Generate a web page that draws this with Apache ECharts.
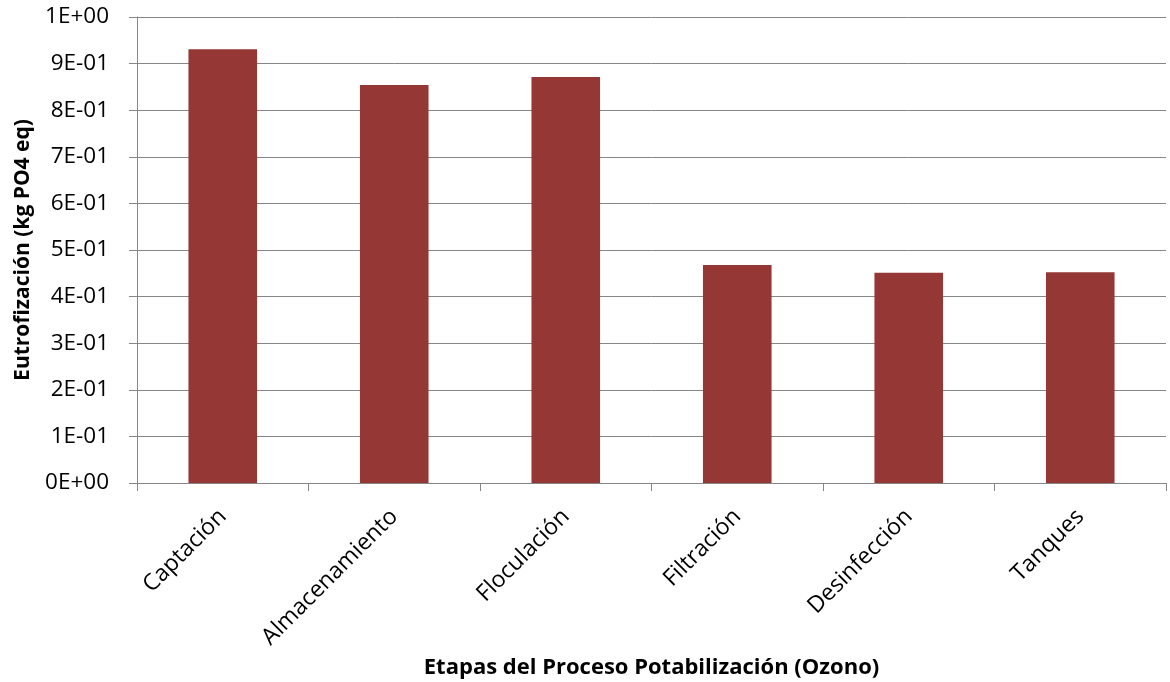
<!DOCTYPE html>
<html>
<head>
<meta charset="utf-8">
<script src="https://cdn.jsdelivr.net/npm/echarts@6/dist/echarts.min.js"></script>
<style>
  html, body { margin: 0; padding: 0; background: #fff; }
  #chart { width: 1170px; height: 682px; }
</style>
</head>
<body>
<div id="chart"></div>
<script>
// Process stages and eutrophication values (kg PO4 eq)
const categories = ['Captación', 'Almacenamiento', 'Floculación', 'Filtración', 'Desinfección', 'Tanques'];
const values = [0.931, 0.854, 0.871, 0.468, 0.451, 0.452];
const xTitle = 'Etapas del Proceso Potabilización (Ozono)';
const yTitle = 'Eutrofización (kg PO4 eq)';

// Scientific tick labels such as 9E-01, 1E+00, 0E+00
function sci(v) {
  if (Math.abs(v) < 1e-12) return '0E+00';
  const e = Math.floor(Math.log10(Math.abs(v)) + 1e-9);
  const m = Math.round(v / Math.pow(10, e));
  const sign = e < 0 ? '-' : '+';
  const ex = String(Math.abs(e)).padStart(2, '0');
  return m + 'E' + sign + ex;
}

const font = '"Open Sans", sans-serif';
const chart = echarts.init(document.getElementById('chart'));
chart.setOption({
  animation: false,
  grid: { left: 137, right: 4, top: 17, bottom: 199, containLabel: false, outerBoundsMode: 'none' },
  xAxis: {
    type: 'category',
    data: categories,
    name: xTitle,
    nameLocation: 'middle',
    nameGap: 174,
    nameTextStyle: { fontFamily: font, fontSize: 22, fontWeight: 'bold', color: '#000' },
    axisLine: { lineStyle: { color: '#868686', width: 1 } },
    axisTick: { show: true, length: 8, lineStyle: { color: '#868686' } },
    axisLabel: { rotate: 45, fontFamily: font, fontSize: 23, color: '#000', margin: 30 }
  },
  yAxis: {
    type: 'value',
    min: 0,
    max: 1,
    interval: 0.1,
    name: yTitle,
    nameLocation: 'middle',
    nameGap: 103,
    nameTextStyle: { fontFamily: font, fontSize: 21, fontWeight: 'bold', color: '#000' },
    axisLine: { show: true, lineStyle: { color: '#868686', width: 1 } },
    axisTick: { show: true, length: 8, lineStyle: { color: '#868686' } },
    splitLine: { lineStyle: { color: '#868686', width: 1 } },
    axisLabel: { fontFamily: font, fontSize: 22.5, color: '#000', margin: 28, formatter: sci }
  },
  series: [{
    type: 'bar',
    data: values,
    barCategoryGap: '60%',
    itemStyle: { color: '#953735' }
  }]
});
</script>
</body>
</html>
